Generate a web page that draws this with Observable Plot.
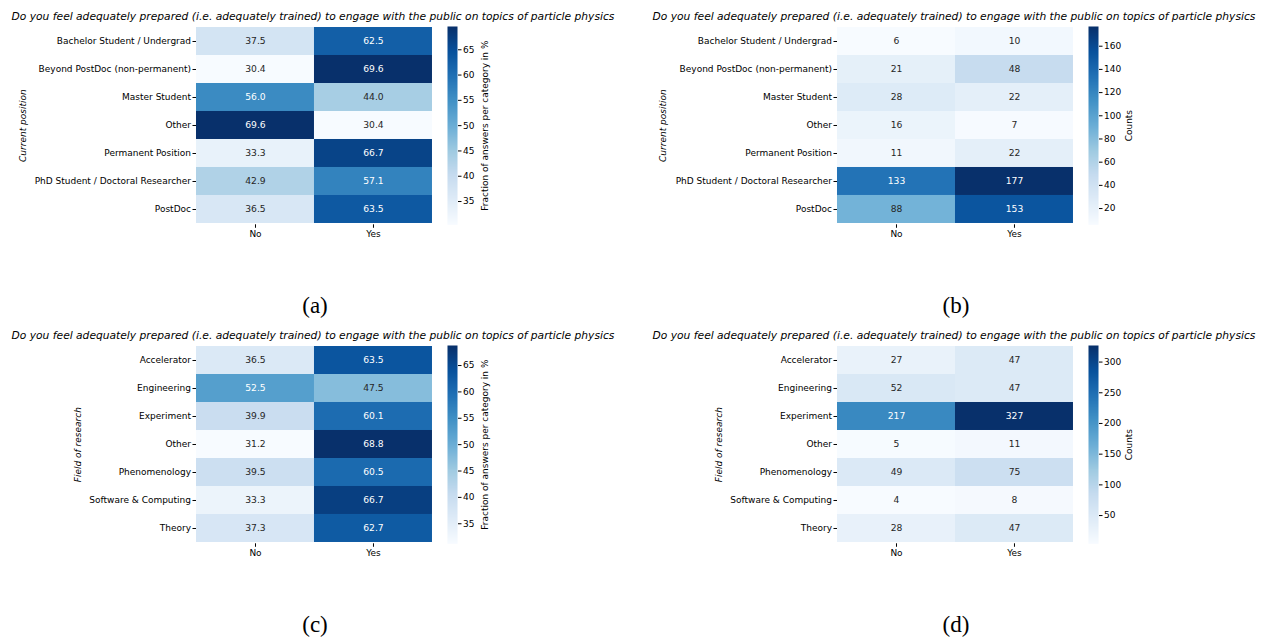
<!DOCTYPE html>
<html><head><meta charset="utf-8">
<script src="https://cdn.jsdelivr.net/npm/d3@7"></script>
<script src="https://cdn.jsdelivr.net/npm/@observablehq/plot@0.6"></script>
<style>
body{margin:0;background:#fff;}
#root{position:relative;width:1265px;height:641px;overflow:hidden;font-family:"DejaVu Sans",sans-serif;background:#fff;}
.abs{position:absolute;}
.title{font-style:italic;font-size:10.7px;line-height:12px;white-space:nowrap;transform:translateX(-50%);color:#000;}
.sub{font-family:"Liberation Serif","DejaVu Serif",serif;font-size:23px;line-height:1;transform:translate(-50%,-50%);color:#000;}
svg g[aria-label="y-axis label"] text{font-style:italic;}
.cb svg g[aria-label="y-axis label"] text{font-style:normal;}
</style></head><body><div id="root"></div>
<script>
// ---- data ----
const question = "Do you feel adequately prepared (i.e. adequately trained) to engage with the public on topics of particle physics";
const answers = ["No", "Yes"];
const positions = ["Bachelor Student / Undergrad", "Beyond PostDoc (non-permanent)", "Master Student", "Other", "Permanent Position", "PhD Student / Doctoral Researcher", "PostDoc"];
const positionPctNo  = [37.5, 30.4, 56.0, 69.6, 33.3, 42.9, 36.5];
const positionPctYes = [62.5, 69.6, 44.0, 30.4, 66.7, 57.1, 63.5];
const positionCountNo  = [6, 21, 28, 16, 11, 133, 88];
const positionCountYes = [10, 48, 22, 7, 22, 177, 153];
const fields = ["Accelerator", "Engineering", "Experiment", "Other", "Phenomenology", "Software & Computing", "Theory"];
const fieldPctNo  = [36.5, 52.5, 39.9, 31.2, 39.5, 33.3, 37.3];
const fieldPctYes = [63.5, 47.5, 60.1, 68.8, 60.5, 66.7, 62.7];
const fieldCountNo  = [27, 52, 217, 5, 49, 4, 28];
const fieldCountYes = [47, 47, 327, 11, 75, 8, 47];
const pctTicks = [35, 40, 45, 50, 55, 60, 65];
const positionCountTicks = [20, 40, 60, 80, 100, 120, 140, 160];
const fieldCountTicks = [50, 100, 150, 200, 250, 300];
const pctLabel = "Fraction of answers per category in %";
const countLabel = "Counts";

// ---- style ----
const bluesStops = ["#f7fbff","#deebf7","#c6dbef","#9ecae1","#6baed6","#4292c6","#2171b5","#08519c","#08306b"];
const blues = d3.piecewise(d3.interpolateRgb, bluesStops);
function relLum(c) {
  const rgb = d3.rgb(c);
  const f = v => { v /= 255; return v <= 0.03928 ? v / 12.92 : Math.pow((v + 0.055) / 1.055, 2.4); };
  return 0.2126 * f(rgb.r) + 0.7152 * f(rgb.g) + 0.0722 * f(rgb.b);
}

const root = document.getElementById("root");
function addDiv(cls, x, y, text) {
  const d = document.createElement("div");
  d.className = "abs " + cls;
  d.style.left = x + "px"; d.style.top = y + "px";
  d.textContent = text;
  root.appendChild(d);
  return d;
}

const HX0 = 196, HX1 = 432.7, HY0 = 26, HY1 = 224.3;
const CBX0 = 447.3, CBW = 10;

function panel(ox, oy, cats, noVals, yesVals, ylabel, ylabelOffset, cbLabel, cbTicks, cbLabelOffset, fmt, sub) {
  const data = [];
  cats.forEach((c, i) => {
    data.push({category: c, answer: "No", value: noVals[i]});
    data.push({category: c, answer: "Yes", value: yesVals[i]});
  });
  const ext = d3.extent(data, d => d.value);
  const norm = v => (v - ext[0]) / (ext[1] - ext[0]);
  const isDark = d => relLum(blues(norm(d.value))) <= 0.408;

  addDiv("title", ox + 313, oy + 11, question);

  const mb = 30, mr = 12;
  const heat = Plot.plot({
    width: HX1 + mr, height: (HY1 - HY0) + mb,
    marginLeft: HX0, marginRight: mr, marginTop: 0, marginBottom: mb,
    style: {fontFamily: "DejaVu Sans", fontSize: "9px", background: "transparent", color: "#000", overflow: "visible"},
    x: {domain: answers, padding: 0},
    y: {domain: cats, padding: 0},
    color: {type: "linear", domain: ext, interpolate: blues},
    marks: [
      Plot.cell(data, {x: "answer", y: "category", fill: "value", inset: 0}),
      Plot.text(data, {x: "answer", y: "category", text: d => fmt(d.value), filter: d => !isDark(d), fill: "#262626", fontSize: 9.2}),
      Plot.text(data, {x: "answer", y: "category", text: d => fmt(d.value), filter: d => isDark(d), fill: "white", fontSize: 9.2}),
      Plot.axisX({tickSize: 3.5, tickPadding: 2.5, label: null}),
      Plot.axisY({tickSize: 3.5, tickPadding: 2, label: ylabel, labelAnchor: "center", labelOffset: ylabelOffset, labelArrow: "none"})
    ]
  });
  heat.style.position = "absolute";
  heat.style.left = ox + "px";
  heat.style.top = (oy + HY0) + "px";
  root.appendChild(heat);

  const cbmr = 70;
  const cb = Plot.plot({
    width: CBW + cbmr, height: (HY1 - HY0),
    marginLeft: 0, marginRight: cbmr, marginTop: 0, marginBottom: 0,
    style: {fontFamily: "DejaVu Sans", fontSize: "9px", background: "transparent", color: "#000", overflow: "visible"},
    x: {domain: [0, 1], axis: null},
    y: {type: "linear", domain: ext},
    color: {type: "linear", domain: ext, interpolate: blues},
    marks: [
      Plot.raster({x1: 0, x2: 1, y1: ext[0], y2: ext[1], fill: (x, y) => y, pixelSize: 0.5}),
      Plot.axisY({anchor: "right", ticks: cbTicks, tickSize: 3.5, tickPadding: 2, label: cbLabel, labelAnchor: "center", labelOffset: cbLabelOffset, labelArrow: "none"})
    ]
  });
  const wrap = document.createElement("div");
  wrap.className = "abs cb";
  wrap.style.left = (ox + CBX0) + "px";
  wrap.style.top = (oy + HY0) + "px";
  wrap.appendChild(cb);
  root.appendChild(wrap);

  addDiv("sub", ox + 315, oy + 305, sub);
}

const f1 = d3.format(".1f");
const f0 = d3.format("d");
panel(0, 0, positions, positionPctNo, positionPctYes, "Current position", 177, pctLabel, pctTicks, 31, f1, "(a)");
panel(641, 0, positions, positionCountNo, positionCountYes, "Current position", 178, countLabel, positionCountTicks, 33, f0, "(b)");
panel(0, 318.7, fields, fieldPctNo, fieldPctYes, "Field of research", 122, pctLabel, pctTicks, 31, f1, "(c)");
panel(641, 318.7, fields, fieldCountNo, fieldCountYes, "Field of research", 122, countLabel, fieldCountTicks, 33, f0, "(d)");
</script></body></html>
